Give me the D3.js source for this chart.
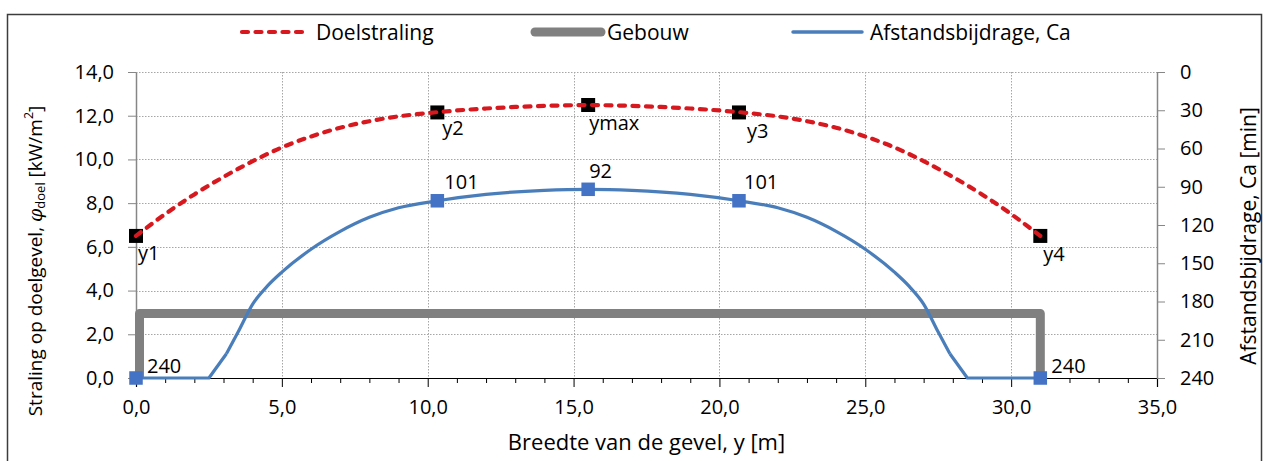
<!DOCTYPE html>
<html>
<head>
<meta charset="utf-8">
<script src="https://cdn.jsdelivr.net/npm/d3@7"></script>
<style>
  html, body { margin: 0; padding: 0; background: #fff; }
  svg { display: block; font-family: "Open Sans", Lato, sans-serif; }
</style>
</head>
<body>
<svg id="chart" width="1266" height="461"></svg>
<script>
// Radiation on the target facade along its width
const distance = [0, 1, 2, 3, 4, 5, 6, 7, 8, 9, 10, 11, 12, 13, 14, 15, 15.5,
                  16, 17, 18, 19, 20, 21, 22, 23, 24, 25, 26, 27, 28, 29, 30, 31];
const doelstraling = [6.5, 7.5, 8.4, 9.2, 9.92, 10.55, 11.05, 11.45, 11.75, 11.97, 12.12, 12.24, 12.33, 12.4, 12.45, 12.48, 12.49,
                      12.48, 12.45, 12.4, 12.33, 12.24, 12.12, 11.97, 11.75, 11.45, 11.05, 10.55, 9.92, 9.2, 8.4, 7.5, 6.5];

// Building outline
const buildingX = [0.12, 0.12, 31, 31];
const buildingH = [0, 2.95, 2.95, 0];

// Distance contribution Ca [min] (right axis)
const caDistance = [0, 2.5, 3.1, 3.5, 4, 4.5, 5, 6, 7, 8, 9, 10.33, 12, 14, 15.5,
                    17, 19, 20.67, 22, 23, 24, 25, 26, 26.5, 27, 27.5, 27.9, 28.5, 31];
const caMinutes = [240, 240, 221, 204, 182, 168, 157, 139, 125, 114, 106.5, 101, 96, 92.8, 92,
                   92.8, 96, 101, 106.5, 114, 125, 139, 157, 168, 182, 204, 221, 240, 240];

// Named points on the facade
const pointNames = ["y1", "y2", "ymax", "y3", "y4"];
const pointDistance = [0, 10.33, 15.5, 20.67, 31];
const pointRadiation = [6.5, 12.15, 12.49, 12.15, 6.5];
const pointCa = [240, 101, 92, 101, 240];

// Axis ticks
const xTicks = [0, 5, 10, 15, 20, 25, 30, 35];
const yLeftTicks = [0, 2, 4, 6, 8, 10, 12, 14];
const yRightTicks = [0, 30, 60, 90, 120, 150, 180, 210, 240];

const seriesNames = ["Doelstraling", "Gebouw", "Afstandsbijdrage, Ca"];

// ---- layout ----
const svg = d3.select("#chart");
const L = 136, R = 1157, T = 72, B = 378;
const x = d3.scaleLinear().domain([0, 35]).range([L, R]);
const yL = d3.scaleLinear().domain([0, 14]).range([B, T]);
const yR = d3.scaleLinear().domain([0, 240]).range([T, B]);
const fmt1 = v => d3.format(".1f")(v).replace(".", ",");

const RED = "#D7191F", GREY = "#808080", BLUE_LINE = "#4A7EBB", BLUE_MARK = "#4472C4";
const FONT = "'Open Sans', Lato, sans-serif";
const FS = 20;      // tick and point labels
const FS_T = 21;    // legend and axis titles

// chart frame
svg.append("rect").attr("x", 7.5).attr("y", 14.5).attr("width", 1254).attr("height", 480)
  .attr("fill", "none").attr("stroke", "#3c3c3c").attr("stroke-width", 1.5);

// gridlines
const grid = svg.append("g").attr("stroke", "#a6a6a6").attr("stroke-width", 1).attr("stroke-dasharray", "1.5,1.5");
grid.selectAll("line.h").data(yLeftTicks.filter(d => d > 0)).join("line")
  .attr("x1", L).attr("x2", R).attr("y1", d => Math.round(yL(d)) + 0.5).attr("y2", d => Math.round(yL(d)) + 0.5);
grid.selectAll("line.v").data(xTicks.filter(d => d > 0 && d < 35)).join("line")
  .attr("y1", T).attr("y2", B).attr("x1", d => Math.round(x(d)) + 0.5).attr("x2", d => Math.round(x(d)) + 0.5);

// axes
const xAxis = svg.append("g").attr("transform", `translate(0,${B})`)
  .call(d3.axisBottom(x).tickValues(xTicks).tickFormat(fmt1).tickSize(9).tickPadding(10));
const xMinor = svg.append("g").attr("transform", `translate(0,${B})`)
  .call(d3.axisBottom(x).tickValues(d3.range(0, 36).filter(d => d % 5 !== 0)).tickFormat("").tickSize(5));
xMinor.select(".domain").remove();
[xAxis, xMinor].forEach(g => g.selectAll("line").attr("stroke", "#000"));
xAxis.select(".domain").attr("stroke", "#000").attr("stroke-width", 1.2);

const yAxisL = svg.append("g").attr("transform", `translate(${L},0)`)
  .call(d3.axisLeft(yL).tickValues(yLeftTicks).tickFormat(fmt1).tickSize(8).tickSizeOuter(0).tickPadding(14));
const yAxisR = svg.append("g").attr("transform", `translate(${R},0)`)
  .call(d3.axisRight(yR).tickValues(yRightTicks).tickFormat(d3.format("d")).tickSize(8).tickSizeOuter(0).tickPadding(15));
[yAxisL, yAxisR].forEach(g => {
  g.select(".domain").attr("stroke", "#868686").attr("stroke-width", 1.5);
  g.selectAll(".tick line").attr("stroke", "#868686");
});
[xAxis, yAxisL, yAxisR].forEach(g => g.selectAll("text")
  .attr("font-family", FONT).attr("font-size", FS).attr("fill", "#000"));
xAxis.selectAll("text").attr("dy", "0.85em");

// building outline
svg.append("path")
  .datum(buildingX.map((d, i) => [d, buildingH[i]]))
  .attr("d", d3.line().x(d => x(d[0])).y(d => yL(d[1])))
  .attr("fill", "none").attr("stroke", GREY).attr("stroke-width", 9).attr("stroke-linejoin", "round");

// Ca curve: straight flanks, smooth middle
const caPts = caDistance.map((d, i) => [d, caMinutes[i]]);
const caLinear = d3.line().x(d => x(d[0])).y(d => yR(d[1]));
const caSmooth = d3.line().x(d => x(d[0])).y(d => yR(d[1])).curve(d3.curveMonotoneX);
const n = caPts.length;
const caStyle = p => p.attr("fill", "none").attr("stroke", BLUE_LINE).attr("stroke-width", 3.2)
  .attr("stroke-linejoin", "round");
svg.append("path").datum(caPts.slice(0, 3)).attr("d", caLinear).call(caStyle);
svg.append("path").datum(caPts.slice(2, n - 2)).attr("d", caSmooth).call(caStyle);
svg.append("path").datum(caPts.slice(n - 3)).attr("d", caLinear).call(caStyle);

// Ca markers
const MS = 13.5;
svg.append("g").selectAll("rect").data(pointDistance).join("rect")
  .attr("x", (d) => x(d) - MS / 2).attr("y", (d, i) => yR(pointCa[i]) - MS / 2)
  .attr("width", MS).attr("height", MS).attr("fill", BLUE_MARK);

// named point markers (under the dashed curve)
const MB = 14;
svg.append("g").selectAll("rect").data(pointDistance).join("rect")
  .attr("x", d => x(d) - MB / 2).attr("y", (d, i) => yL(pointRadiation[i]) - MB / 2)
  .attr("width", MB).attr("height", MB).attr("fill", "#000");

// radiation curve
svg.append("path")
  .datum(distance.map((d, i) => [d, doelstraling[i]]))
  .attr("d", d3.line().x(d => x(d[0])).y(d => yL(d[1])).curve(d3.curveMonotoneX))
  .attr("fill", "none").attr("stroke", RED).attr("stroke-width", 4.2)
  .attr("stroke-dasharray", "6,7.5").attr("stroke-linecap", "round");

// point labels
const nameOffset = [[2, 17], [5, 15], [1, 17], [8, 18], [3, 18]];
svg.append("g").selectAll("text").data(pointNames).join("text")
  .attr("x", (d, i) => x(pointDistance[i]) + nameOffset[i][0])
  .attr("y", (d, i) => yL(pointRadiation[i]) + nameOffset[i][1])
  .attr("dominant-baseline", "central").attr("font-size", FS).text(d => d);

const caOffset = [[11, -13], [7, -19], [1, -19], [5, -19], [11, -13]];
svg.append("g").selectAll("text").data(pointCa).join("text")
  .attr("x", (d, i) => x(pointDistance[i]) + caOffset[i][0])
  .attr("y", (d, i) => yR(d) + caOffset[i][1])
  .attr("dominant-baseline", "central").attr("font-size", FS).text(d => d);

// axis titles
svg.append("text").attr("x", (L + R) / 2).attr("y", 441).attr("text-anchor", "middle")
  .attr("dominant-baseline", "central").attr("font-size", 22).text("Breedte van de gevel, y [m]");

const lt = svg.append("text").attr("transform", "translate(35,261) rotate(-90)")
  .attr("text-anchor", "middle").attr("dominant-baseline", "central").attr("font-size", 19);
lt.append("tspan").text("Straling op doelgevel, ");
lt.append("tspan").attr("font-style", "italic").attr("font-family", "'DejaVu Serif', serif").text("φ");
lt.append("tspan").attr("font-size", 13).attr("dy", 5).text("doel");
lt.append("tspan").attr("dy", -5).text(" [kW/m");
lt.append("tspan").attr("font-size", 12.5).attr("dy", -7).text("2");
lt.append("tspan").attr("dy", 7).text("]");

svg.append("text").attr("transform", "translate(1248,236) rotate(-90)")
  .attr("text-anchor", "middle").attr("dominant-baseline", "central").attr("font-size", FS_T)
  .text("Afstandsbijdrage, Ca [min]");

// legend
const LY = 32;
const leg = svg.append("g");
leg.append("line").attr("x1", 242).attr("x2", 306).attr("y1", LY).attr("y2", LY)
  .attr("stroke", RED).attr("stroke-width", 4.2).attr("stroke-dasharray", "6,7.5").attr("stroke-linecap", "round");
leg.append("line").attr("x1", 535).attr("x2", 601).attr("y1", LY).attr("y2", LY)
  .attr("stroke", GREY).attr("stroke-width", 9).attr("stroke-linecap", "round");
leg.append("line").attr("x1", 793).attr("x2", 862).attr("y1", LY).attr("y2", LY)
  .attr("stroke", BLUE_LINE).attr("stroke-width", 3.5).attr("stroke-linecap", "round");
const legX = [316, 607, 870];
leg.selectAll("text").data(seriesNames).join("text")
  .attr("x", (d, i) => legX[i]).attr("y", LY).attr("dominant-baseline", "central")
  .attr("font-size", FS_T).text(d => d);
</script>
</body>
</html>
